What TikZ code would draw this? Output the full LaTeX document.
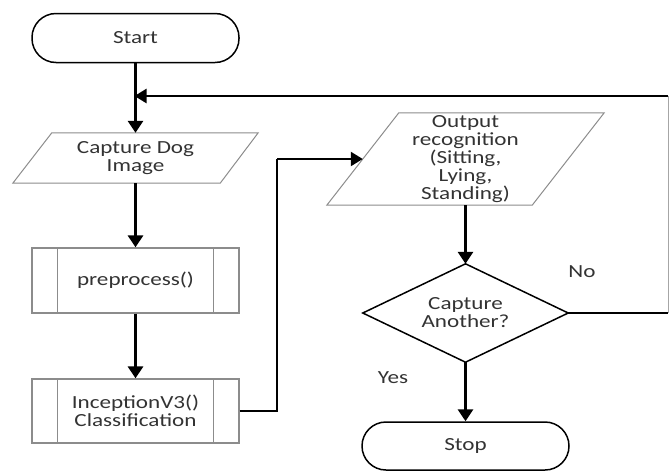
\documentclass[tikz,border=0pt]{standalone}
\usepackage{fontspec}
\setmainfont{Carlito}[FakeStretch=1.25]
\usetikzlibrary{arrows.meta,calc}
\begin{document}
\begin{tikzpicture}[x=1pt,y=-1pt,
  txt/.style={font=\fontsize{18.5}{18}\selectfont, text=black!80, align=center, inner sep=0pt},
  term/.style={txt, draw=black, line width=1.5pt, rounded corners=24pt, minimum width=207pt, minimum height=49pt},
  sub/.style={txt, draw=black!45, line width=1.3pt, minimum width=207pt, minimum height=65pt},
  outline/.style={draw=black!45, line width=1pt},
  flow/.style={line width=3pt, -{Triangle[length=12pt,width=15pt]}},
  lbl/.style={font=\fontsize{18.5}{18}\selectfont, text=black!80}
]
\useasboundingbox (0,0) rectangle (669,472);
% nodes
\node[term] (start) at (135.5,38) {Start};
\node[txt, minimum width=245pt, minimum height=50pt] (cap) at (135.5,158) {Capture Dog\\Image};
\draw[outline] ($(cap.north west)+(39,0)$) -- (cap.north east) -- ($(cap.south east)+(-38,0)$) -- (cap.south west) -- cycle;
\node[sub] (pre) at (135.5,280.5) {preprocess()};
\draw[black!45, line width=1.3pt] ($(pre.north west)+(26,0)$) -- ($(pre.south west)+(26,0)$)
  ($(pre.north east)+(-26,0)$) -- ($(pre.south east)+(-26,0)$);
\node[sub, minimum height=64pt] (inc) at (135.5,411) {InceptionV3()\\Classification};
\draw[black!45, line width=1.3pt] ($(inc.north west)+(26,0)$) -- ($(inc.south west)+(26,0)$)
  ($(inc.north east)+(-26,0)$) -- ($(inc.south east)+(-26,0)$);
\node[txt, minimum width=277pt, minimum height=92pt] (out) at (465.5,159) {Output\\recognition\\(Sitting,\\Lying,\\Standing)};
\draw[outline] ($(out.north west)+(72,0)$) -- (out.north east) -- ($(out.south east)+(-72,0)$) -- (out.south west) -- cycle;
\node[txt, minimum width=205pt, minimum height=98pt] (dia) at (465.5,313) {Capture\\Another?};
\draw[black, line width=1.5pt] (dia.north) -- (dia.east) -- (dia.south) -- (dia.west) -- cycle;
\node[term, minimum height=48pt] (stop) at (465.5,446) {Stop};
\coordinate (jn) at (135.5,96);
\coordinate (rt) at (668,96);
\coordinate (mid) at (277,159);
% connectors
\draw[flow] (start.south) -- (cap.north);
\draw[flow] (cap.south) -- (pre.north);
\draw[flow] (pre.south) -- (inc.north);
\draw[flow] (out.south) -- (dia.north);
\draw[flow] (dia.south) -- (stop.north);
\draw[line width=2.2pt] (inc.east) -| (mid);
\draw[line width=2.2pt, -{Triangle[length=12pt,width=14pt]}] (mid) -- ($(out.west)+(36,0)$);
\draw[line width=1.8pt] (dia.east) -- (dia.east -| rt);
\draw[black!35, line width=1pt] (dia.east -| rt) -- (rt);
\draw[line width=2.5pt, -{Triangle[length=12pt,width=14pt]}] (rt) -- ($(jn)+(-1,0)$);
% labels
\node[lbl] (yes) at (393,378) {Yes};
\node[lbl] (no) at (582,272) {No};
\end{tikzpicture}
\end{document}
